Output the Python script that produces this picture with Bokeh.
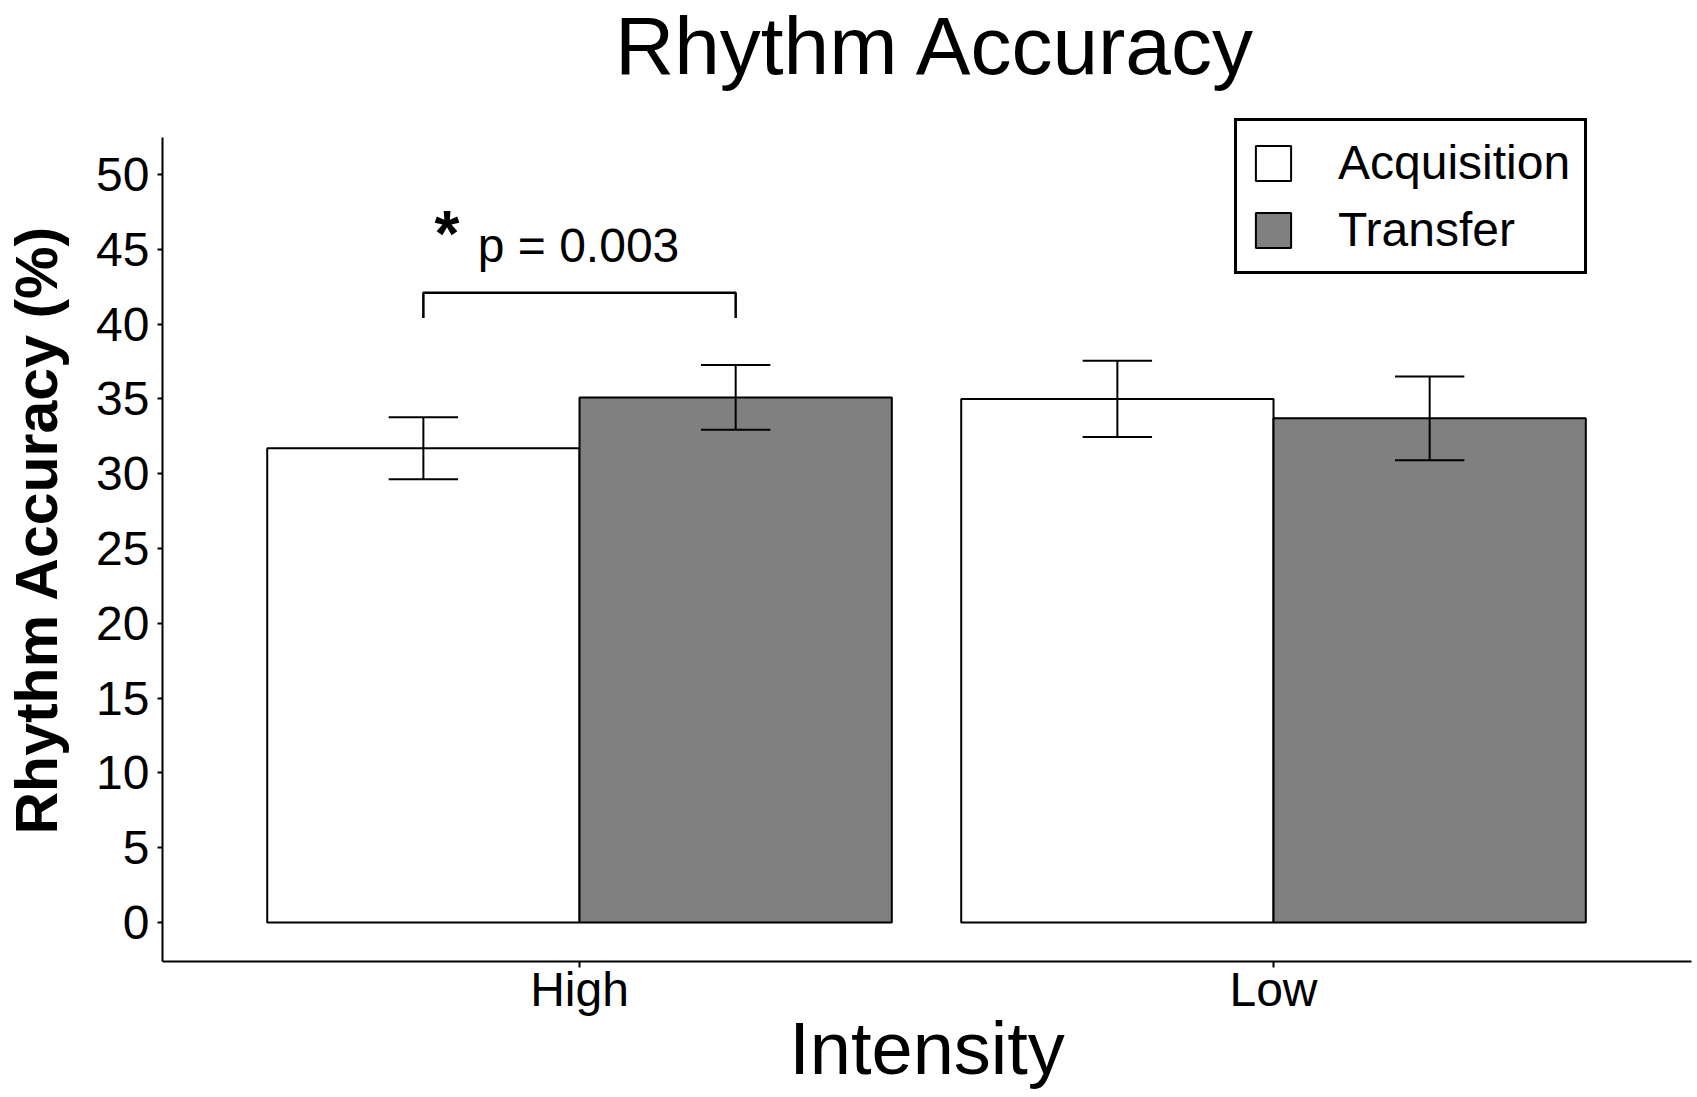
from bokeh.plotting import figure
from bokeh.models import Range1d, FixedTicker, Legend, LegendItem, LinearAxis, Title
from bokeh.core.properties import value
from bokeh.embed import file_html
from bokeh.resources import INLINE

# ---- data ----
categories = ["High", "Low"]
series_names = ["Acquisition", "Transfer"]
acquisition = [31.7, 35.0]
transfer = [35.1, 33.7]
acquisition_se = [2.07, 2.55]
transfer_se = [2.17, 2.80]
y_ticks = [0, 5, 10, 15, 20, 25, 30, 35, 40, 45, 50]
title_text = "Rhythm Accuracy"
x_label = "Intensity"
y_label = "Rhythm Accuracy  (%)"
sig_star = "*"
sig_text = "p = 0.003"

# ---- styling / layout constants ----
FONT = "Liberation Sans"
BAR_W = 0.45
CAP = 0.05
sig_y = 42.1
sig_drop = 1.7
Y_AXIS_TOP = 52.47
X_START, X_END = -0.1009, 2.1023
Y_START, Y_END = -2.607, 61.63
SHIFT = 26  # canvas pulled left so the rotated y title sits near the page edge

centers = [i + 0.5 for i in range(len(categories))]
acq_x = [c - BAR_W / 2 for c in centers]
tr_x = [c + BAR_W / 2 for c in centers]

p = figure(width=1697 + SHIFT, height=1097, title=None,
           x_range=Range1d(X_START, X_END), y_range=Range1d(Y_START, Y_END),
           output_backend="svg", toolbar_location=None,
           min_border_left=162 + SHIFT, min_border_right=6,
           min_border_top=0, min_border_bottom=136)
p.styles = {"margin-left": f"-{SHIFT}px"}

p.xgrid.visible = False
p.ygrid.visible = False
p.outline_line_color = None
p.background_fill_color = "white"
p.border_fill_color = "white"

r_acq = p.vbar(x=acq_x, top=acquisition, bottom=0, width=BAR_W,
               fill_color="white", line_color="black", line_width=2)
r_tr = p.vbar(x=tr_x, top=transfer, bottom=0, width=BAR_W,
              fill_color="#808080", line_color="black", line_width=2)

def error_bars(xs, means, ses):
    lo = [m - s for m, s in zip(means, ses)]
    hi = [m + s for m, s in zip(means, ses)]
    p.segment(x0=xs, y0=lo, x1=xs, y1=hi, line_color="black", line_width=2)
    p.segment(x0=[x - CAP for x in xs], y0=hi, x1=[x + CAP for x in xs], y1=hi,
              line_color="black", line_width=2)
    p.segment(x0=[x - CAP for x in xs], y0=lo, x1=[x + CAP for x in xs], y1=lo,
              line_color="black", line_width=2)

error_bars(acq_x, acquisition, acquisition_se)
error_bars(tr_x, transfer, transfer_se)

# significance bracket and text
bx0, bx1 = acq_x[0], tr_x[0]
p.line(x=[bx0, bx0, bx1, bx1], y=[sig_y - sig_drop, sig_y, sig_y, sig_y - sig_drop],
       line_color="black", line_width=2.5)
p.text(x=[0.291], y=[46.0], text=[sig_star], text_font=value(FONT),
       text_font_size="64px", text_font_style="bold", text_color="black",
       text_align="left", text_baseline="alphabetic")
p.text(x=[0.3534], y=[45.25], text=[sig_text], text_font=value(FONT),
       text_font_size="48px", text_color="black",
       text_align="left", text_baseline="alphabetic")

# chart title (inside the tall frame, above the axis bounds)
p.text(x=[1.014], y=[58.64], text=[title_text], text_font=value(FONT),
       text_font_size="82px", text_color="black",
       text_align="center", text_baseline="alphabetic")

# primary axes
for ax in (p.xaxis[0], p.yaxis[0]):
    ax.axis_line_width = 2
    ax.axis_line_color = "black"
    ax.major_tick_line_width = 2
    ax.major_tick_line_color = "black"
    ax.major_tick_in = 0
    ax.minor_tick_line_color = None
    ax.major_label_text_font = FONT
    ax.major_label_text_font_size = "48px"
    ax.major_label_text_color = "black"

p.xaxis.ticker = FixedTicker(ticks=centers)
p.xaxis.major_label_overrides = {c: n for c, n in zip(centers, categories)}
p.xaxis.major_tick_out = 6
p.xaxis.major_label_standoff = -5
p.yaxis.ticker = FixedTicker(ticks=y_ticks)
p.yaxis.bounds = (Y_START, Y_AXIS_TOP)
p.yaxis.major_tick_out = 5
p.yaxis.major_label_standoff = 8

# y-axis title as a side title, aligned from the frame bottom
p.add_layout(Title(text=y_label, align="left", offset=127, standoff=22 + SHIFT,
                   text_font=FONT, text_font_size="59px", text_font_style="bold",
                   text_color="black"), "left")

# x-axis title carried by a label-only axis
x_title_axis = LinearAxis(ticker=FixedTicker(ticks=[]), axis_line_color=None,
                          major_tick_line_color=None, minor_tick_line_color=None,
                          major_tick_out=0, major_tick_in=0, minor_tick_out=0,
                          major_label_standoff=0, major_label_text_font_size="0px",
                          axis_label=x_label, axis_label_standoff=-12,
                          axis_label_text_font=FONT, axis_label_text_font_size="74px",
                          axis_label_text_font_style="normal",
                          axis_label_text_color="black")
p.add_layout(x_title_axis, "below")

legend = Legend(items=[LegendItem(label=series_names[0], renderers=[r_acq]),
                       LegendItem(label=series_names[1], renderers=[r_tr])],
                location=(1072, 687), margin=0, padding=14, spacing=12,
                glyph_width=44, glyph_height=44, label_height=38,
                label_standoff=43, label_text_font=FONT, label_text_font_size="48px",
                label_text_color="black",
                border_line_color="black", border_line_width=3, border_line_alpha=1.0,
                background_fill_color="white", background_fill_alpha=1.0)
p.add_layout(legend)

open("out.html", "w").write(file_html(p, INLINE))
